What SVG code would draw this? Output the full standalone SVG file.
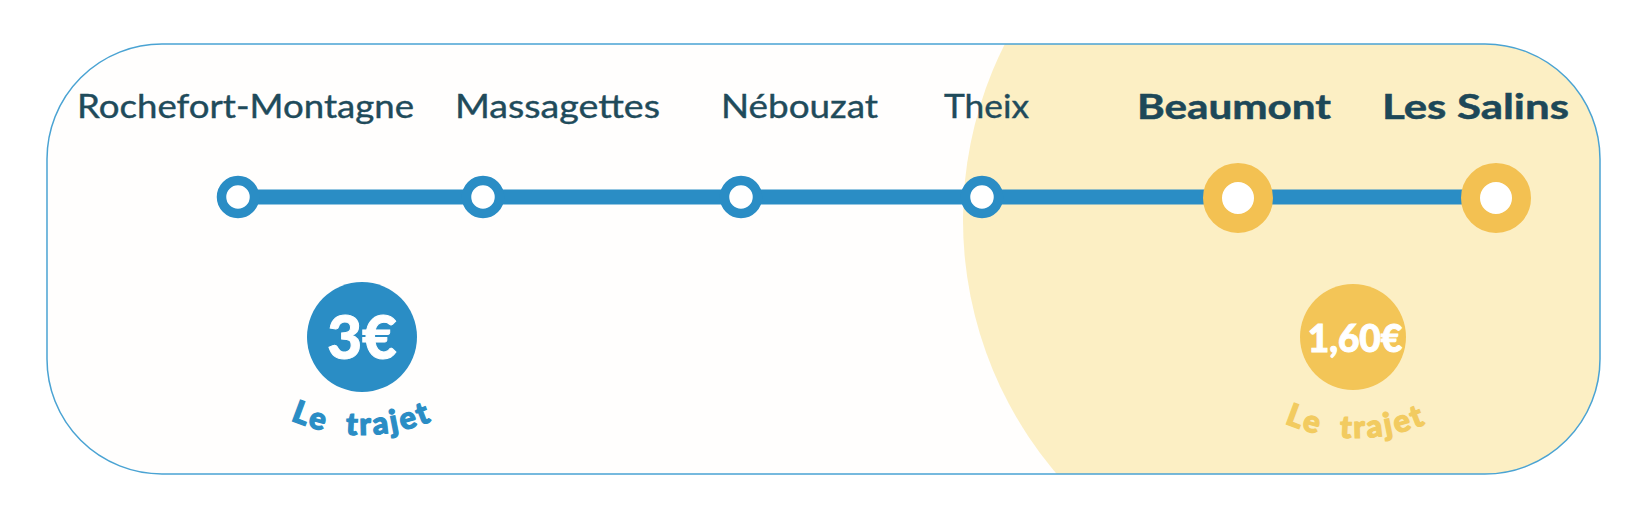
<svg xmlns="http://www.w3.org/2000/svg" width="1644" height="522" viewBox="0 0 1644 522">
  <defs>
    <clipPath id="frameClip">
      <rect x="47" y="44" width="1553" height="430" rx="115" ry="115"/>
    </clipPath>
    <path id="arcBlue" d="M 182,255 A 180 180 0 0 0 542,255"/>
    <path id="arcYellow" d="M 1176,258 A 180 180 0 0 0 1536,258"/>
    <style>
      .label { font-family: Lato, "Open Sans", "Liberation Sans", sans-serif; font-size: 32px; fill: #1f4b5b; stroke: #1f4b5b; stroke-width: 0.4px; }
      .label-bold { font-family: Lato, "Open Sans", "Liberation Sans", sans-serif; font-size: 34px; font-weight: 700; fill: #1d4858; stroke: #1d4858; stroke-width: 0.5px; }
      .line { stroke: #2a8dc5; stroke-width: 15; fill: none; }
      .stop-blue { fill: #ffffff; stroke: #2a8dc5; stroke-width: 9.5; }
      .stop-yellow { fill: #ffffff; stroke: #f3c152; stroke-width: 19; }
      .price { font-family: Lato, "Open Sans", "Liberation Sans", sans-serif; font-weight: 900; fill: #ffffff; stroke: #ffffff; stroke-width: 1px; text-anchor: middle; }
      .trajet { font-family: Lato, "Open Sans", "Liberation Sans", sans-serif; font-weight: 900; font-size: 31px; letter-spacing: 2.5px; word-spacing: 10px; stroke-width: 1.2px; }
    </style>
  </defs>

  <rect width="1644" height="522" fill="#ffffff"/>

  <g id="background">
    <rect x="47" y="44" width="1553" height="430" rx="115" ry="115" fill="#fffefd"/>
    <circle cx="1354" cy="220" r="391" fill="#fcefc4" clip-path="url(#frameClip)"/>
    <rect x="47" y="44" width="1553" height="430" rx="115" ry="115" fill="none" stroke="#4aa3d3" stroke-width="1.5"/>
  </g>

  <g id="connectors">
    <line class="line" x1="238" y1="197" x2="483" y2="197"/>
    <line class="line" x1="483" y1="197" x2="741" y2="197"/>
    <line class="line" x1="741" y1="197" x2="982" y2="197"/>
    <line class="line" x1="982" y1="197" x2="1238" y2="197"/>
    <line class="line" x1="1238" y1="197" x2="1496" y2="197"/>
  </g>

  <g id="node-rochefort">
    <circle class="stop-blue" cx="238" cy="197" r="16.5"/>
    <text class="label" x="77" y="118" textLength="337" lengthAdjust="spacingAndGlyphs">Rochefort-Montagne</text>
  </g>
  <g id="node-massagettes">
    <circle class="stop-blue" cx="483" cy="197" r="16.5"/>
    <text class="label" x="455" y="118" textLength="205" lengthAdjust="spacingAndGlyphs">Massagettes</text>
  </g>
  <g id="node-nebouzat">
    <circle class="stop-blue" cx="741" cy="197" r="16.5"/>
    <text class="label" x="721" y="118" textLength="157" lengthAdjust="spacingAndGlyphs">Nébouzat</text>
  </g>
  <g id="node-theix">
    <circle class="stop-blue" cx="982" cy="197" r="16.5"/>
    <text class="label" x="944" y="118" textLength="85" lengthAdjust="spacingAndGlyphs">Theix</text>
  </g>
  <g id="node-beaumont">
    <circle class="stop-yellow" cx="1238" cy="198" r="25.5"/>
    <text class="label-bold" x="1137" y="119" textLength="194" lengthAdjust="spacingAndGlyphs">Beaumont</text>
  </g>
  <g id="node-les-salins">
    <circle class="stop-yellow" cx="1496" cy="198" r="25.5"/>
    <text class="label-bold" x="1382" y="119" textLength="187" lengthAdjust="spacingAndGlyphs">Les Salins</text>
  </g>

  <g id="price-blue">
    <circle cx="362" cy="337" r="55" fill="#2a8dc5"/>
    <text class="price" x="362" y="359" font-size="60">3€</text>
    <text class="trajet" fill="#2a8dc5" stroke="#2a8dc5"><textPath href="#arcBlue" startOffset="50%" text-anchor="middle">Le trajet</textPath></text>
  </g>

  <g id="price-yellow">
    <circle cx="1353" cy="337" r="53" fill="#f3c557"/>
    <text class="price" x="1355" y="352" font-size="37">1,60€</text>
    <text class="trajet" fill="#f2cb60" stroke="#f2cb60"><textPath href="#arcYellow" startOffset="50%" text-anchor="middle">Le trajet</textPath></text>
  </g>
</svg>
